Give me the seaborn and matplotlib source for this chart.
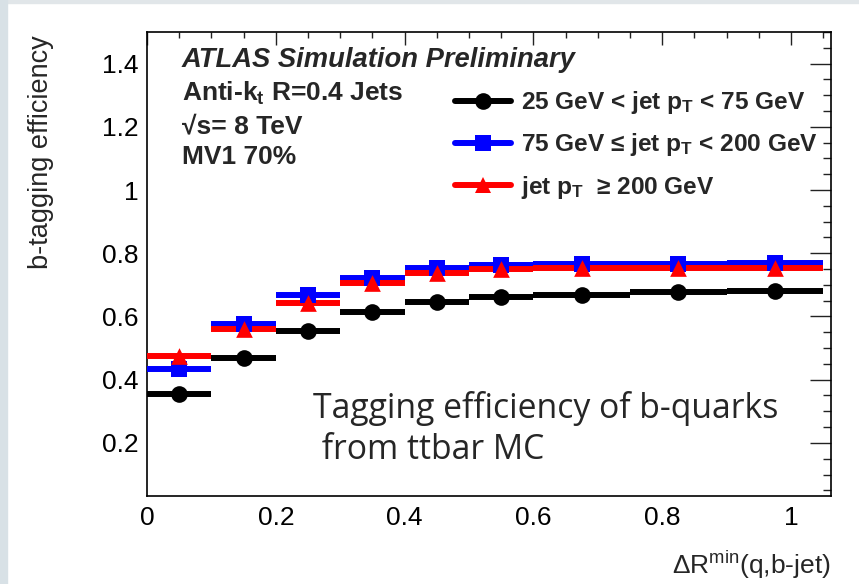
import numpy as np
import pandas as pd
import matplotlib
matplotlib.use("Agg")
import matplotlib.pyplot as plt
import seaborn as sns
from matplotlib.lines import Line2D
from matplotlib.patches import Rectangle
from matplotlib.ticker import MultipleLocator, FixedLocator, FuncFormatter

# ---------------- data ----------------
bin_edges = [0.0, 0.1, 0.2, 0.3, 0.4, 0.5, 0.6, 0.75, 0.9, 1.05]
eff_low = [0.354, 0.468, 0.554, 0.613, 0.645, 0.663, 0.668, 0.677, 0.680]
eff_mid = [0.433, 0.577, 0.668, 0.721, 0.752, 0.764, 0.766, 0.767, 0.768]
eff_high = [0.475, 0.559, 0.643, 0.705, 0.738, 0.751, 0.754, 0.754, 0.754]
series_labels = [
    r"25 GeV < jet p$_{\mathbf{T}}$ < 75 GeV",
    r"75 GeV ≤ jet p$_{\mathbf{T}}$ < 200 GeV",
    r"jet p$_{\mathbf{T}}$  ≥ 200 GeV",
]
series_colors = ["black", "#0000ff", "#ff0000"]
series_markers = ["o", "s", "^"]
x_ticks = [0, 0.2, 0.4, 0.6, 0.8, 1.0]
y_ticks = [0.2, 0.4, 0.6, 0.8, 1.0, 1.2, 1.4]

edges = np.array(bin_edges)
centers = 0.5 * (edges[:-1] + edges[1:])
frames = []
for lab, vals in zip(series_labels, [eff_low, eff_mid, eff_high]):
    frames.append(pd.DataFrame({"dr": centers, "eff": vals, "lo": edges[:-1],
                                "hi": edges[1:], "series": lab}))
df = pd.concat(frames, ignore_index=True)

# ---------------- style ----------------
sns.set_style("white")
plt.rcParams["font.family"] = ["Liberation Sans", "DejaVu Sans"]
plt.rcParams["mathtext.fontset"] = "custom"
plt.rcParams["mathtext.rm"] = "Liberation Sans"
plt.rcParams["mathtext.it"] = "Liberation Sans:italic"
plt.rcParams["mathtext.bf"] = "Liberation Sans:bold"

W, H = 859, 584
fig = plt.figure(figsize=(W / 100, H / 100), dpi=100)
fig.patch.set_facecolor("white")
ax = fig.add_axes([147 / W, 1 - 496 / H, (831 - 147) / W, (496 - 32) / H])

# slide-like frame strips
fig.patches.append(Rectangle((0, 1 - 3 / H), 1, 3 / H, transform=fig.transFigure,
                             color="#e1e6e9", zorder=0))
fig.patches.append(Rectangle((0, 0), 7 / W, 1, transform=fig.transFigure,
                             color="#d8e1e6", zorder=0))

lw = 4.3
ms = 12
for lab, col, mk in zip(series_labels, series_colors, series_markers):
    sub = df[df["series"] == lab]
    ax.hlines(sub["eff"], sub["lo"], sub["hi"], colors=col, linewidth=lw, zorder=3)
    sns.scatterplot(data=sub, x="dr", y="eff", color=col, marker=mk, s=ms ** 2,
                    edgecolor=col, linewidth=0, ax=ax, zorder=4, legend=False)

ax.set_xlim(0, 1.062)
ax.set_ylim(0.032, 1.5)
ax.set_xlabel("")
ax.set_ylabel("")

ax.xaxis.set_major_locator(FixedLocator(x_ticks))
ax.xaxis.set_minor_locator(MultipleLocator(0.05))
ax.yaxis.set_major_locator(FixedLocator(y_ticks))
ax.yaxis.set_minor_locator(MultipleLocator(0.05))
fmt = FuncFormatter(lambda v, p: "%g" % round(v, 3))
ax.xaxis.set_major_formatter(fmt)
ax.yaxis.set_major_formatter(fmt)

ax.tick_params(which="both", direction="in", top=True, right=True, colors="#222222",
               width=1.0, labelsize=19, labelcolor="black")
ax.tick_params(axis="x", which="major", length=9.5, pad=7)
ax.tick_params(axis="x", which="minor", length=4.5)
ax.tick_params(axis="y", which="major", length=15, pad=6)
ax.tick_params(axis="y", which="minor", length=6)
for sp in ax.spines.values():
    sp.set_visible(True)
    sp.set_color("black")
    sp.set_linewidth(1.2)

# axis titles (ROOT style placement)
fig.text(41 / W, 1 - 35 / H, "b-tagging efficiency", rotation=90, ha="center",
         va="top", fontsize=19.5)
fig.text(831 / W, 1 - 565 / H, r"$\Delta$R$^{\rm min}$(q,b-jet)", ha="right",
         va="center", fontsize=19)

# ATLAS labels
fig.text(182 / W, 1 - 60 / H, "ATLAS Simulation Preliminary", fontsize=19.7,
         fontweight="bold", fontstyle="italic", va="center")
fig.text(182 / W, 1 - 93 / H, r"Anti-k$_{\mathbf{t}}$ R=0.4 Jets", fontsize=19,
         fontweight="bold", va="center")
fig.text(182 / W, 1 - 126 / H, "√s= 8 TeV", fontsize=19, fontweight="bold", va="center")
fig.text(182 / W, 1 - 157 / H, "MV1 70%", fontsize=19, fontweight="bold", va="center")

handles = [Line2D([], [], color=c, marker=m, markersize=ms, linewidth=lw,
                  markeredgewidth=0)
           for c, m in zip(series_colors, series_markers)]
leg = fig.legend(handles, series_labels, loc="upper left",
                 bbox_to_anchor=(443 / W, 1 - 77 / H), frameon=False,
                 prop={"weight": "bold", "size": 17.6}, handlelength=2.3,
                 handletextpad=0.38, labelspacing=0.62, borderpad=0)

# annotation
fig.text(313 / W, 1 - 408 / H, "Tagging efficiency of b-quarks", fontsize=24.3,
         family=["Open Sans", "DejaVu Sans"], va="center")
fig.text(313 / W, 1 - 450 / H, " from ttbar MC", fontsize=24.3,
         family=["Open Sans", "DejaVu Sans"], va="center")

fig.savefig("out.png", dpi=100)
